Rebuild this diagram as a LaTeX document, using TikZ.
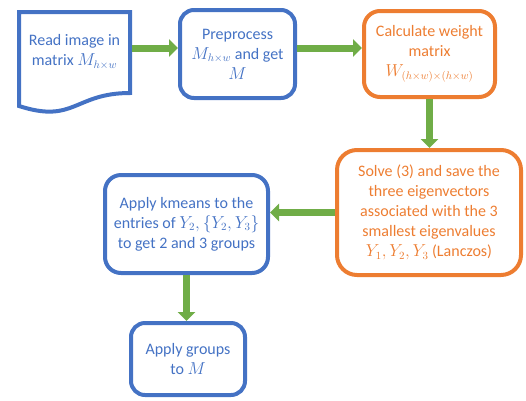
\documentclass[tikz,border=0pt]{standalone}
\usepackage{fontspec}
\setmainfont{Carlito}
\usetikzlibrary{arrows.meta}
\definecolor{oblue}{HTML}{4472C4}
\definecolor{oorange}{HTML}{ED7D31}
\definecolor{ogreen}{HTML}{70AD47}
\begin{document}
\begin{tikzpicture}[x=1pt,y=-1pt,
  base/.style={align=center, font=\fontsize{16}{20}\selectfont, inner sep=0pt},
  bluebox/.style={base, draw=oblue, text=oblue, line width=4pt, rounded corners=14pt},
  orangebox/.style={base, draw=oorange, text=oorange, line width=4pt, rounded corners=16pt},
  arr/.style={draw=ogreen, line width=7pt, -{Triangle[length=9pt,width=17pt]}}]
\useasboundingbox (0,0) rectangle (526,400);
% document shape
\draw[oblue, line width=4pt, line join=miter] (19,12) -- (130,12) -- (130,93)
  .. controls (74.5,93) and (74.5,124) .. (19,106) -- cycle;
\node[base, text=oblue, minimum width=115pt, minimum height=70pt, outer sep=0pt] (read) at (74.5,52) {Read image in\\ matrix $M_{h\times w}$};
\node[bluebox, minimum width=115pt, minimum height=88pt] (pre) at (237.5,54) {Preprocess\\ $M_{h\times w}$ and get\\ $M$};
\node[orangebox, minimum width=131pt, minimum height=86pt] (calc) at (429.5,54) {Calculate weight\\ matrix\\ $W_{(h\times w)\times(h\times w)}$};
\node[orangebox, rounded corners=20pt, minimum width=184pt, minimum height=125pt] (solve) at (429,212.5) {Solve (3) and save the\\ three eigenvectors\\ associated with the 3\\ smallest eigenvalues\\ $Y_1,Y_2,Y_3$ (Lanczos)};
\node[bluebox, rounded corners=16pt, minimum width=163pt, minimum height=98pt] (km) at (186.5,224) {Apply kmeans to the\\ entries of $Y_2,\{Y_2,Y_3\}$\\ to get 2 and 3 groups};
\node[bluebox, minimum width=114pt, minimum height=72pt] (grp) at (188,359) {Apply groups\\ to $M$};
% connectors
\draw[arr] ([yshift=4pt]read.east) -- ([yshift=6pt]pre.west);
\draw[arr] ([yshift=6pt]pre.east) -- ([yshift=6pt]calc.west);
\draw[arr] (calc.south) -- (calc.south |- solve.north);
\draw[arr] (solve.west) -- (solve.west -| km.east);
\draw[arr] (km.south) -- (km.south |- grp.north);
\end{tikzpicture}
\end{document}
